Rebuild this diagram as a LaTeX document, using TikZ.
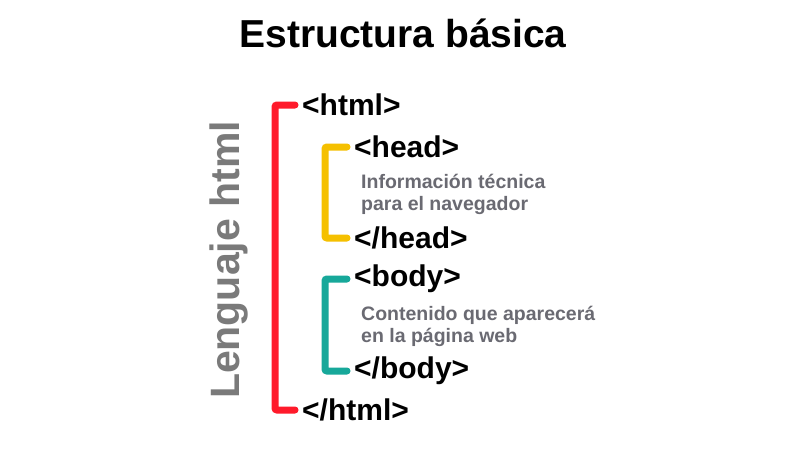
\documentclass[tikz,border=0pt]{standalone}
\usepackage{fontspec}
\setmainfont{Liberation Sans}
\definecolor{bred}{HTML}{FF1A2B}
\definecolor{byel}{HTML}{F5C000}
\definecolor{bteal}{HTML}{17A89A}
\definecolor{infog}{HTML}{6A6A72}
\definecolor{langg}{HTML}{7A7A7A}
\tikzset{
  tag/.style={anchor=west, inner sep=0pt, font=\bfseries\fontsize{30}{32}\selectfont, text=black},
  info/.style={anchor=base west, inner sep=0pt, align=left, font=\bfseries\fontsize{19.5}{22}\selectfont, text=infog},
  brk/.style={line width=7pt, rounded corners=2pt, line cap=round}
}
\begin{document}
\begin{tikzpicture}[x=1pt,y=-1pt]
\useasboundingbox[fill=white] (0,0) rectangle (800,450);
\node[inner sep=0pt, font=\bfseries\fontsize{39}{42}\selectfont] (title) at (403,33) {Estructura básica};
\node[rotate=90, inner sep=0pt, font=\bfseries\fontsize{41}{44}\selectfont, text=langg] (lang) at (229,260) {Lenguaje html};
\node[tag] (html) at (302,105) {<html>};
\node[tag] (head) at (354,147) {<head>};
\node[info] (hinfo) at (361,210) {Información técnica\\para el navegador};
\node[tag] (chead) at (354,238) {</head>};
\node[tag] (body) at (354,279) {<body>};
\node[info] (binfo) at (361,342) {Contenido que aparecerá\\en la página web};
\node[tag] (cbody) at (354,371) {</body>};
\node[tag] (chtml) at (302,410) {</html>};
\draw[brk, bred] ([xshift=-7pt]html.west) -- ([xshift=-27pt]html.west) -- ([xshift=-27pt]chtml.west) -- ([xshift=-7pt]chtml.west);
\draw[brk, byel] ([xshift=-7pt]head.west) -- ([xshift=-29pt]head.west) -- ([xshift=-29pt]chead.west) -- ([xshift=-7pt]chead.west);
\draw[brk, bteal] ([xshift=-7pt]body.west) -- ([xshift=-29pt]body.west) -- ([xshift=-29pt]cbody.west) -- ([xshift=-7pt]cbody.west);
\end{tikzpicture}
\end{document}
